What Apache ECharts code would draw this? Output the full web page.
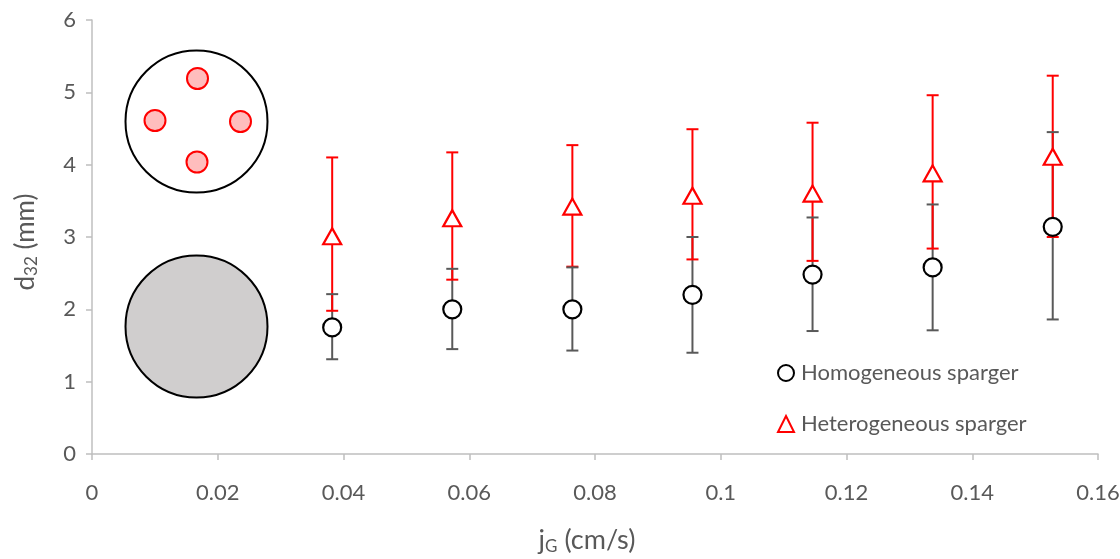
<!DOCTYPE html>
<html>
<head>
<meta charset="utf-8">
<script src="https://cdn.jsdelivr.net/npm/echarts@6/dist/echarts.min.js"></script>
<style>html,body{margin:0;padding:0;background:#fff;width:1120px;height:559px;overflow:hidden}#c{width:1120px;height:559px}</style>
</head>
<body>
<div id="c"></div>
<script>
const jG = [0.0382, 0.0573, 0.0764, 0.0955, 0.1146, 0.1337, 0.1528];
const homMean = [1.75, 2.00, 2.00, 2.20, 2.48, 2.58, 3.14];
const homLow  = [1.31, 1.45, 1.43, 1.40, 1.70, 1.71, 1.86];
const homHigh = [2.21, 2.56, 2.58, 3.00, 3.27, 3.45, 4.45];
const hetMean = [3.01, 3.26, 3.42, 3.57, 3.60, 3.88, 4.11];
const hetLow  = [1.98, 2.41, 2.59, 2.69, 2.67, 2.84, 3.00];
const hetHigh = [4.10, 4.17, 4.27, 4.49, 4.58, 4.96, 5.23];
const xTicks = [0, 0.02, 0.04, 0.06, 0.08, 0.1, 0.12, 0.14, 0.16];
const yTicks = [0, 1, 2, 3, 4, 5, 6];
const seriesNames = ['Homogeneous sparger', 'Heterogeneous sparger'];

const FONT = 'Lato, "Open Sans", sans-serif';
const GREY = '#595959';
const ERR_BLACK = '#595959';
const RED = '#FF0000';

const chart = echarts.init(document.getElementById('c'));

const errData = jG.map((x, i) => [x, homLow[i], homHigh[i], hetLow[i], hetHigh[i]]);

function renderErr(params, api) {
  const x = api.value(0);
  const hl = api.coord([x, api.value(1)]);
  const hh = api.coord([x, api.value(2)]);
  const rl = api.coord([x, api.value(3)]);
  const rh = api.coord([x, api.value(4)]);
  const cw = 6;
  const bs = {stroke: ERR_BLACK, lineWidth: 2};
  const rs = {stroke: RED, lineWidth: 2};
  return {
    type: 'group',
    children: [
      {type: 'line', shape: {x1: hl[0], y1: hl[1], x2: hh[0], y2: hh[1]}, style: bs},
      {type: 'line', shape: {x1: rl[0], y1: rl[1], x2: rh[0], y2: rh[1]}, style: rs},
      {type: 'line', shape: {x1: rl[0]-cw, y1: rl[1], x2: rl[0]+cw, y2: rl[1]}, style: rs},
      {type: 'line', shape: {x1: rh[0]-cw, y1: rh[1], x2: rh[0]+cw, y2: rh[1]}, style: rs},
      {type: 'line', shape: {x1: hl[0]-cw, y1: hl[1], x2: hl[0]+cw, y2: hl[1]}, style: bs},
      {type: 'line', shape: {x1: hh[0]-cw, y1: hh[1], x2: hh[0]+cw, y2: hh[1]}, style: bs}
    ]
  };
}

const option = {
  backgroundColor: '#fff',
  animation: false,
  textStyle: {fontFamily: FONT},
  grid: {left: 92, right: 22, top: 20, bottom: 105, containLabel: false, outerBoundsMode: 'none'},
  xAxis: {
    type: 'value', min: xTicks[0], max: xTicks[xTicks.length-1], interval: 0.02,
    axisLine: {show: true, lineStyle: {color: '#BFBFBF', width: 1.5}},
    axisTick: {show: true, length: 6, lineStyle: {color: '#BFBFBF', width: 1.5}},
    splitLine: {show: false},
    axisLabel: {color: GREY, fontSize: 22, fontFamily: FONT, margin: 28,
      formatter: v => String(+v.toFixed(2))},
    name: '{a|j}{s|G}{a| (cm/s)}',
    nameLocation: 'middle', nameGap: 72,
    nameTextStyle: {fontSize: 27, color: GREY, fontFamily: FONT, padding: [0, 16, 0, 0], rich: {
      a: {fontSize: 27, color: GREY, fontFamily: FONT},
      s: {fontSize: 17, color: GREY, fontFamily: FONT, padding: [12, 0, 0, 0]}
    }}
  },
  yAxis: {
    type: 'value', min: yTicks[0], max: yTicks[yTicks.length-1], interval: 1,
    axisLine: {show: true, lineStyle: {color: '#BFBFBF', width: 1.5}},
    axisTick: {show: true, length: 6, lineStyle: {color: '#BFBFBF', width: 1.5}},
    splitLine: {show: false},
    axisLabel: {color: GREY, fontSize: 22, fontFamily: FONT, margin: 16},
    name: '{a|d}{s|32}{a| (mm)}',
    nameLocation: 'middle', nameGap: 52, nameRotate: 90,
    nameTextStyle: {fontSize: 26, color: GREY, fontFamily: FONT, padding: [0, 10, 0, 0], rich: {
      a: {fontSize: 26, color: GREY, fontFamily: FONT},
      s: {fontSize: 17, color: GREY, fontFamily: FONT, padding: [11, 0, 0, 0]}
    }}
  },
  legend: {
    orient: 'vertical', left: 772, top: 357, itemGap: 29,
    itemWidth: 16, itemHeight: 16,
    textStyle: {color: GREY, fontSize: 22, fontFamily: FONT, padding: [0, 0, 0, 2]},
    data: seriesNames
  },
  graphic: [
    {type: 'circle', shape: {cx: 196.5, cy: 121.5, r: 71}, style: {fill: '#fff', stroke: '#000', lineWidth: 2}, z: 1},
    {type: 'circle', shape: {cx: 197.5, cy: 78.5, r: 10.5}, style: {fill: '#FFBDBD', stroke: RED, lineWidth: 2}, z: 2},
    {type: 'circle', shape: {cx: 155, cy: 120.5, r: 10.5}, style: {fill: '#FFBDBD', stroke: RED, lineWidth: 2}, z: 2},
    {type: 'circle', shape: {cx: 240.5, cy: 121.5, r: 10.5}, style: {fill: '#FFBDBD', stroke: RED, lineWidth: 2}, z: 2},
    {type: 'circle', shape: {cx: 197, cy: 162, r: 10.5}, style: {fill: '#FFBDBD', stroke: RED, lineWidth: 2}, z: 2},
    {type: 'circle', shape: {cx: 196.5, cy: 326.5, r: 71}, style: {fill: '#D0CECE', stroke: '#000', lineWidth: 2}, z: 1}
  ],
  series: [
    {
      type: 'custom', name: 'err', renderItem: renderErr, data: errData,
      encode: {x: 0, y: [1, 2, 3, 4]}, z: 2, silent: true
    },
    {
      type: 'scatter', name: seriesNames[0], z: 4,
      symbol: 'circle', symbolSize: 18,
      itemStyle: {color: '#fff', borderColor: '#000', borderWidth: 2.2, opacity: 1},
      data: jG.map((x, i) => [x, homMean[i]])
    },
    {
      type: 'scatter', name: seriesNames[1], z: 4,
      symbol: 'triangle', symbolSize: [18, 16],
      itemStyle: {color: '#fff', borderColor: RED, borderWidth: 2.2, opacity: 1},
      data: jG.map((x, i) => [x, hetMean[i]])
    }
  ]
};
chart.setOption(option);
</script>
</body>
</html>
